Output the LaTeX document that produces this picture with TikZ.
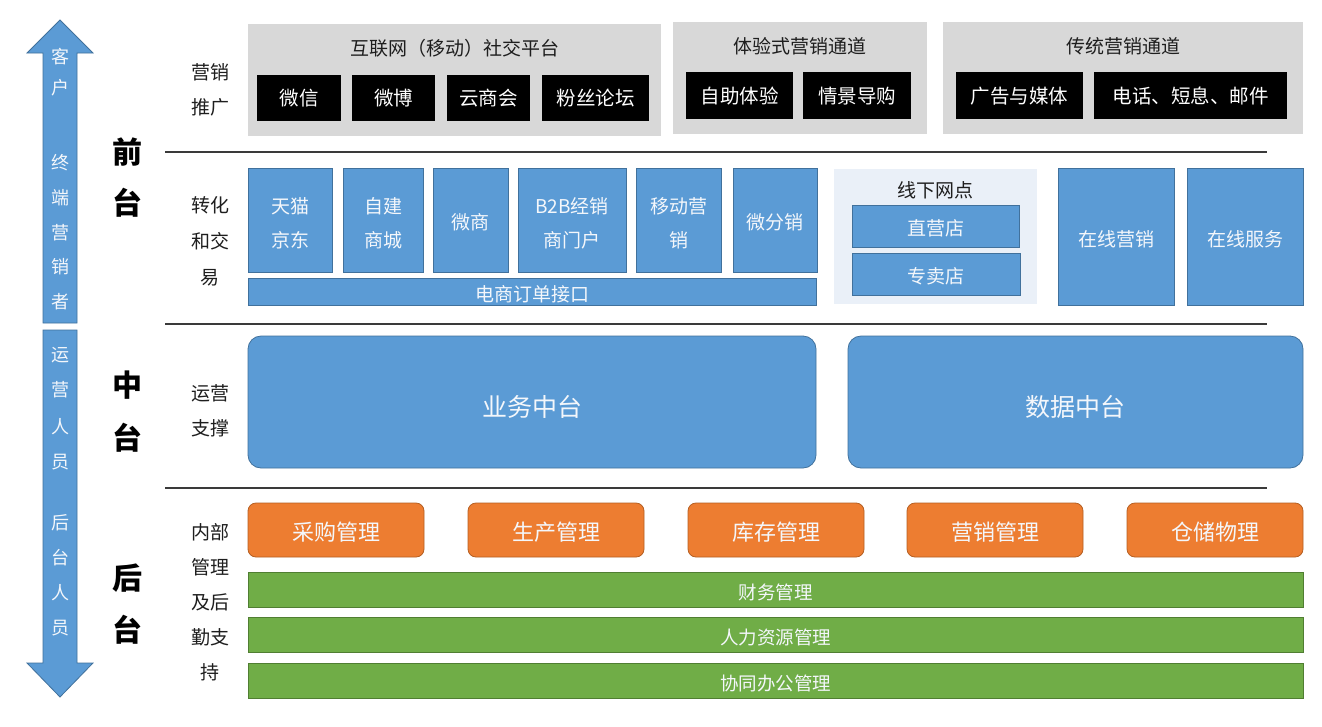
\documentclass[tikz,border=0pt]{standalone}
\usepackage{fontspec}
\setmainfont{Noto Sans CJK SC}
\definecolor{cblue}{HTML}{5B9BD5}
\definecolor{cblueb}{HTML}{41719C}
\definecolor{corange}{HTML}{ED7D31}
\definecolor{corangeb}{HTML}{B55F22}
\definecolor{cgreen}{HTML}{70AD47}
\definecolor{cgreenb}{HTML}{507E32}
\definecolor{cgray}{HTML}{D8D8D8}
\definecolor{clight}{HTML}{EAF0F8}
\definecolor{cline}{HTML}{3A3A3A}
\definecolor{ctext}{HTML}{1E1E1E}
\definecolor{cwhite}{HTML}{F4F7FB}
\begin{document}
\begin{tikzpicture}[x=1pt,y=-1pt,
  base/.style={anchor=north west, inner sep=0pt, outer sep=0pt, align=center},
  graybox/.style={base, fill=cgray},
  grtitle/.style={text=ctext, font=\fontsize{19}{22}\selectfont},
  blackbox/.style={base, fill=black, text=white, font=\fontsize{19.5}{22}\selectfont, text height=17.8pt, text depth=2pt},
  bluebox/.style={base, fill=cblue, draw=cblueb, line width=0.8pt, text=cwhite, font=\fontsize{19}{22}\selectfont, text height=21.3pt, text depth=1.9pt},
  bluetext/.style={text=cwhite, inner sep=0pt, align=center, font=\fontsize{19}{34}\selectfont},
  bigblue/.style={base, fill=cblue, draw=cblueb, line width=0.8pt, rounded corners=13pt, text=cwhite, font=\fontsize{25}{28}\selectfont, text height=31.5pt, text depth=2.5pt},
  orangebox/.style={base, fill=corange, draw=corangeb, line width=0.8pt, rounded corners=8pt, text=cwhite, font=\fontsize{22}{24}\selectfont, text height=22.9pt, text depth=2.2pt, minimum width=176pt, minimum height=54pt},
  greenbar/.style={base, fill=cgreen, draw=cgreenb, line width=0.8pt, text=cwhite, font=\fontsize{18.5}{20}\selectfont, text height=20.9pt, text depth=1.85pt, minimum width=1055pt, minimum height=35pt},
  seprule/.style={draw=cline, line width=1.6pt},
  arrowshape/.style={fill=cblue, draw=cblueb, line width=0.8pt},
  arrowtext/.style={text=cwhite, font=\fontsize{18}{20}\selectfont, inner sep=0pt},
  biglabel/.style={text=black, font=\fontsize{30}{30}\selectfont\bfseries, inner sep=0pt},
  sublabel/.style={text=ctext, align=center, inner sep=0pt}
]
\useasboundingbox[fill=white] (0,0) rectangle (1322,726);

% ---------- side arrows ----------
\draw[arrowshape] (43,323) -- (43,53) -- (27,53) -- (60,20) -- (93,53) -- (77,53) -- (77,323) -- cycle;
\draw[arrowshape] (43,330) -- (43,663) -- (27,663) -- (60,697) -- (93,663) -- (77,663) -- (77,330) -- cycle;
\foreach \c/\yy in {客/57, 户/88, 终/163, 端/198, 营/233, 销/267, 者/302,
                    运/355, 营/390, 人/427, 员/462, 后/523, 台/558, 人/593, 员/628}
  \node[arrowtext] (ar\yy) at (60,\yy) {\c};

% ---------- big section labels ----------
\node[biglabel] (qa) at (127,152) {前};
\node[biglabel] (qb) at (127,203) {台};
\node[biglabel] (za) at (127,385) {中};
\node[biglabel] (zb) at (127,438) {台};
\node[biglabel] (ha) at (127,578) {后};
\node[biglabel] (hb) at (127,630) {台};

% ---------- sub labels ----------
\node[sublabel, font=\fontsize{19}{35}\selectfont] (s1) at (210,90) {营销\\推广};
\node[sublabel, font=\fontsize{19}{36}\selectfont] (s2) at (210,241) {转化\\和交\\易};
\node[sublabel, font=\fontsize{19}{35}\selectfont] (s3) at (210,411) {运营\\支撑};
\node[sublabel, font=\fontsize{19}{35}\selectfont] (s4) at (210,602) {内部\\管理\\及后\\勤支\\持};

% ---------- separator rules ----------
\coordinate (r1a) at (165,152); \coordinate (r1b) at (1267,152);
\coordinate (r2a) at (165,324); \coordinate (r2b) at (1267,324);
\coordinate (r3a) at (165,488); \coordinate (r3b) at (1267,488);
\draw[seprule] (r1a) -- (r1b);
\draw[seprule] (r2a) -- (r2b);
\draw[seprule] (r3a) -- (r3b);

% ---------- marketing row ----------
\node[graybox, minimum width=413pt, minimum height=112pt] (g1) at (248,24) {};
\node[graybox, minimum width=254pt, minimum height=112pt] (g2) at (673,22) {};
\node[graybox, minimum width=360pt, minimum height=112pt] (g3) at (943,22) {};
\node[grtitle] (g1t) at (455,48) {互联网（移动）社交平台};
\node[grtitle] (g2t) at (800,46) {体验式营销通道};
\node[grtitle] (g3t) at (1123,46) {传统营销通道};

\node[blackbox, minimum width=84pt, minimum height=46pt] (b1) at (257,75) {微信};
\node[blackbox, minimum width=83pt, minimum height=46pt] (b2) at (352,75) {微博};
\node[blackbox, minimum width=83pt, minimum height=46pt] (b3) at (447,75) {云商会};
\node[blackbox, minimum width=107pt, minimum height=46pt] (b4) at (542,75) {粉丝论坛};
\node[blackbox, minimum width=107pt, minimum height=47pt] (b5) at (686,72) {自助体验};
\node[blackbox, minimum width=108pt, minimum height=47pt] (b6) at (803,72) {情景导购};
\node[blackbox, minimum width=127pt, minimum height=47pt] (b7) at (956,72) {广告与媒体};
\node[blackbox, minimum width=193pt, minimum height=47pt] (b8) at (1094,72) {电话、短息、邮件};

% ---------- conversion & trade row ----------
\node[bluebox, minimum width=84pt, minimum height=104pt] (c1) at (248,168) {};
\node[bluebox, minimum width=80pt, minimum height=104pt] (c2) at (343,168) {};
\node[bluebox, minimum width=75pt, minimum height=104pt] (c3) at (433,168) {微商};
\node[bluebox, minimum width=108pt, minimum height=104pt] (c4) at (518,168) {};
\node[bluebox, minimum width=85pt, minimum height=104pt] (c5) at (636,168) {};
\node[bluebox, minimum width=84pt, minimum height=104pt] (c6) at (733,168) {微分销};
\node[bluetext] (c1t) at ([yshift=-3pt]c1.center) {天猫\\京东};
\node[bluetext] (c2t) at ([yshift=-3pt]c2.center) {自建\\商城};
\node[bluetext] (c4t) at ([yshift=-3pt]c4.center) {B2B经销\\商门户};
\node[bluetext] (c5t) at ([yshift=-3pt]c5.center) {移动营\\销};
\node[bluebox, minimum width=568pt, minimum height=27pt] (c7) at (248,278) {电商订单接口};

\node[base, fill=clight, minimum width=203pt, minimum height=135pt] (off) at (834,169) {};
\node[grtitle] (offt) at (935,190) {线下网点};
\node[bluebox, minimum width=167pt, minimum height=42pt] (d1) at (852,205) {直营店};
\node[bluebox, minimum width=168pt, minimum height=42pt] (d2) at (852,253) {专卖店};
\node[bluebox, minimum width=116pt, minimum height=137pt] (e1) at (1058,168) {在线营销};
\node[bluebox, minimum width=116pt, minimum height=137pt] (e2) at (1187,168) {在线服务};

% ---------- middle platform ----------
\node[bigblue, minimum width=568pt, minimum height=132pt] (m1) at (248,336) {业务中台};
\node[bigblue, minimum width=455pt, minimum height=132pt] (m2) at (848,336) {数据中台};

% ---------- back office ----------
\node[orangebox] (o1) at (248,503) {采购管理};
\node[orangebox] (o2) at (468,503) {生产管理};
\node[orangebox] (o3) at (688,503) {库存管理};
\node[orangebox] (o4) at (907,503) {营销管理};
\node[orangebox] (o5) at (1127,503) {仓储物理};

\node[greenbar] (n1) at (248,572) {财务管理};
\node[greenbar] (n2) at (248,617) {人力资源管理};
\node[greenbar] (n3) at (248,663) {协同办公管理};
\end{tikzpicture}
\end{document}
